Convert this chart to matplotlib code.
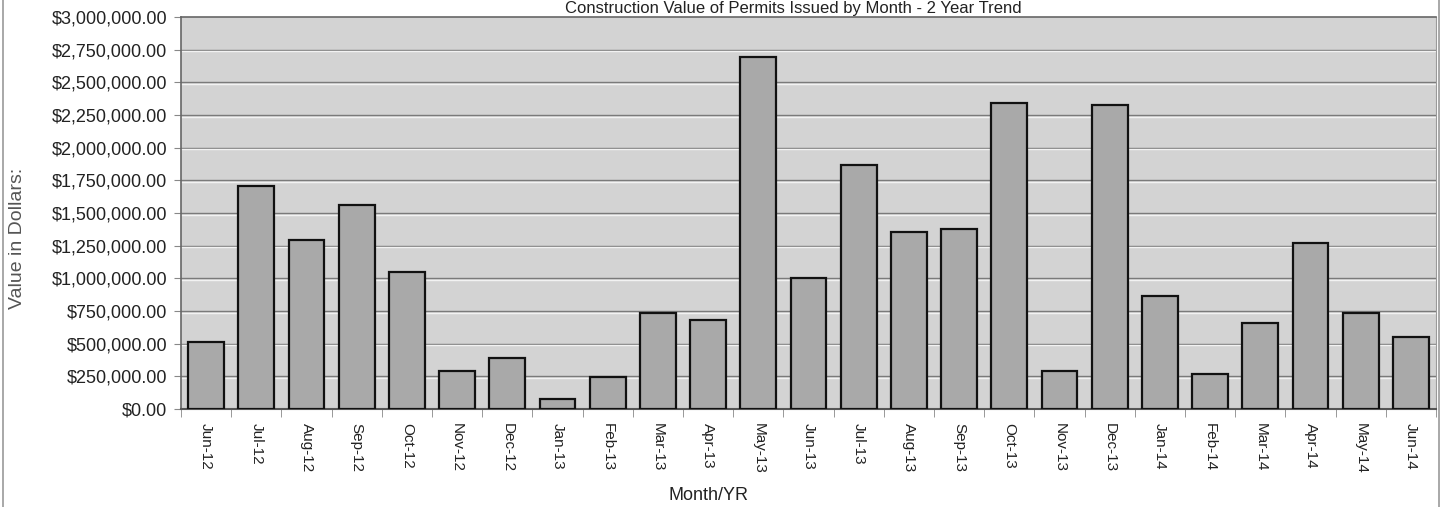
import numpy as np
import matplotlib.pyplot as plt
from matplotlib.lines import Line2D
from matplotlib.ticker import FuncFormatter, MultipleLocator
import matplotlib.transforms as mtransforms

plt.rcParams['font.family'] = ['Liberation Sans', 'DejaVu Sans']

# data
months = ['Jun-12', 'Jul-12', 'Aug-12', 'Sep-12', 'Oct-12', 'Nov-12', 'Dec-12',
          'Jan-13', 'Feb-13', 'Mar-13', 'Apr-13', 'May-13', 'Jun-13', 'Jul-13',
          'Aug-13', 'Sep-13', 'Oct-13', 'Nov-13', 'Dec-13', 'Jan-14', 'Feb-14',
          'Mar-14', 'Apr-14', 'May-14', 'Jun-14']
values = [510000, 1709000, 1293000, 1564000, 1046000, 288000, 390000,
          79000, 245000, 737000, 679000, 2691000, 1002000, 1867000,
          1354000, 1375000, 2344000, 288000, 2324000, 865000, 268000,
          656000, 1268000, 737000, 549000]

title = 'Construction Value of Permits Issued by Month - 2 Year Trend'
xlab = 'Month/YR'
ylab = 'Value in Dollars:'

fig = plt.figure(figsize=(14.42, 5.07), dpi=100)
ax = fig.add_axes([181 / 1442, 1 - 409 / 507, (1436 - 181) / 1442, (409 - 17) / 507])
ax.set_facecolor('#d3d3d3')

x = np.arange(len(months))
ax.bar(x, values, width=0.71, color='#a9a9a9', edgecolor='#111111', linewidth=1.6, zorder=3)

ax.set_xlim(-0.5, len(months) - 0.5)
ax.set_ylim(0, 3000000)
ax.yaxis.set_major_locator(MultipleLocator(250000))
ax.yaxis.set_major_formatter(FuncFormatter(lambda v, p: '${:,.2f}'.format(v)))

# gridlines: dark line with a light line just under it
for v in np.arange(250000, 3000000, 250000):
    ax.axhline(v, color='#7a7a7a', linewidth=1.0, zorder=1)
    off = mtransforms.offset_copy(ax.transData, fig=fig, x=0, y=-1.5, units='dots')
    ax.plot([-0.5, len(months) - 0.5], [v, v], color='#f2f2f2', linewidth=1.0,
            transform=off, zorder=1)

ax.set_xticks(x)
ax.set_xticklabels(months, rotation=-90, fontsize=11, color='#222222')
ax.tick_params(axis='x', which='major', length=0, pad=10)
ax.set_xticks(np.arange(-0.5, len(months), 1), minor=True)
ax.tick_params(axis='x', which='minor', length=6, color='#888888', direction='out')
ax.tick_params(axis='y', labelsize=13, labelcolor='#222222', length=5,
               color='#888888', pad=5)

for side in ['left', 'top']:
    ax.spines[side].set_color('#666666')
    ax.spines[side].set_linewidth(1.2)
ax.spines['bottom'].set_color('#555555')
ax.spines['bottom'].set_linewidth(1.5)
ax.spines['right'].set_color('#9a9a9a')

fig.text(793 / 1442, 1 - 12.5 / 507, title, ha='center', va='baseline',
         fontsize=12, color='#222222')
fig.text(709 / 1442, 1 - 500 / 507, xlab, ha='center', va='baseline',
         fontsize=13, color='#222222')
fig.text(18 / 1442, 1 - 238 / 507, ylab, ha='center', va='center', rotation=90,
         fontsize=14, color='#555555')

# outer frame lines at the left and right edges
fig.add_artist(Line2D([3 / 1442, 3 / 1442], [0, 1], color='#999999', linewidth=1.2))
fig.add_artist(Line2D([1439 / 1442, 1439 / 1442], [0, 1], color='#999999', linewidth=1.2))

fig.savefig('out.png', dpi=100)
